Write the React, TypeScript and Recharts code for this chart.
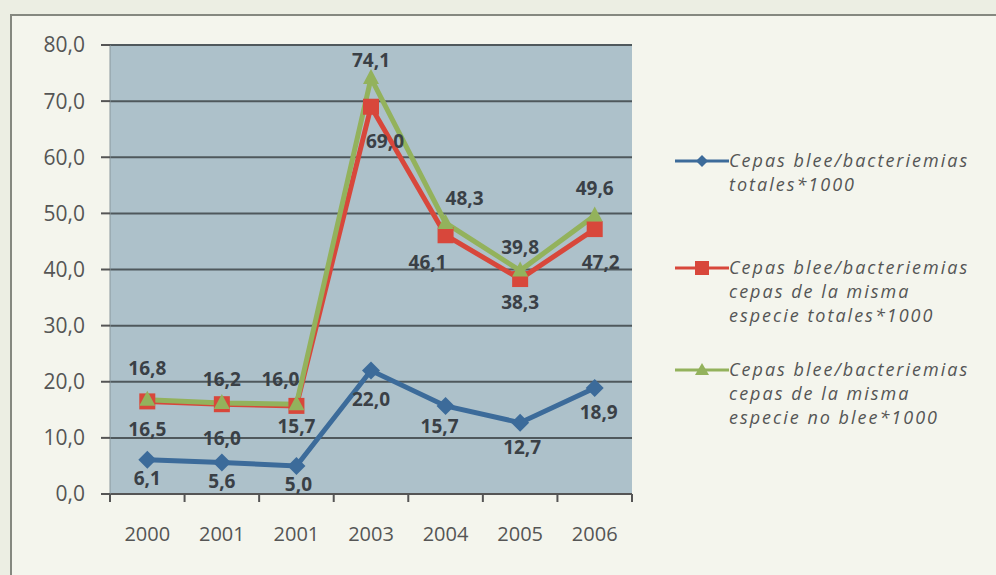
import React from 'react';
import { LineChart, Line, XAxis, YAxis, CartesianGrid, LabelList } from 'recharts';

const years = ['2000', '2001', '2001', '2003', '2004', '2005', '2006'];
const totales = [6.1, 5.6, 5.0, 22.0, 15.7, 12.7, 18.9];
const mismaEspecie = [16.5, 16.0, 15.7, 69.0, 46.1, 38.3, 47.2];
const noBlee = [16.8, 16.2, 16.0, 74.1, 48.3, 39.8, 49.6];
const yTicks = [0, 10, 20, 30, 40, 50, 60, 70, 80];

const data = years.map((y, i) => ({
  idx: i,
  totales: totales[i],
  misma: mismaEspecie[i],
  noBlee: noBlee[i],
}));

// label nudges (dx, dy from the point)
const blueOff = [[0, 18], [0, 18], [2, 18], [0, 28], [-6, 20], [2, 24], [4, 24]];
const redOff = [[0, 28], [0, 34], [0, 20], [14, 34], [-18, 27], [0, 23], [6, 33]];
const greenOff = [[0, -32], [0, -24], [-16, -25], [0, -18], [19, -25], [0, -24], [0, -28]];

const BLUE = '#3c6b9a';
const RED = '#d8473b';
const GREEN = '#93b25c';
const font = '"Open Sans", sans-serif';

const fmt = (v: number) => v.toFixed(1).replace('.', ',');

const makeLabel = (offs: number[][]) => (props: any) => {
  const { x, y, value, index } = props;
  const [dx, dy] = offs[index] || [0, 0];
  return (
    <text
      x={x + dx}
      y={y + dy}
      textAnchor="middle"
      dominantBaseline="central"
      fontFamily={font}
      fontSize={19}
      fontWeight={700}
      fill="#3a4046"
    >
      {fmt(value)}
    </text>
  );
};

const Diamond = (props: any) => {
  const { cx, cy } = props;
  const r = 9;
  return <polygon points={`${cx},${cy - r} ${cx + r},${cy} ${cx},${cy + r} ${cx - r},${cy}`} fill={BLUE} />;
};

const Square = (props: any) => {
  const { cx, cy } = props;
  return <rect x={cx - 8} y={cy - 8} width={16} height={16} fill={RED} />;
};

const Triangle = (props: any) => {
  const { cx, cy } = props;
  return <polygon points={`${cx},${cy - 9} ${cx + 8},${cy + 6} ${cx - 8},${cy + 6}`} fill={GREEN} />;
};

const BAND = 522 / 7;

const XTick = (props: any) => {
  const { x, y, payload, index } = props;
  return (
    <g>
      <line x1={x - BAND / 2} y1={y - 8} x2={x - BAND / 2} y2={y} stroke="#555" strokeWidth={2} />
      {index === years.length - 1 && (
        <line x1={x + BAND / 2} y1={y - 8} x2={x + BAND / 2} y2={y} stroke="#555" strokeWidth={2} />
      )}
      <text x={x} y={y + 39} textAnchor="middle" fontFamily={font} fontSize={20} fill="#555">
        {years[payload.value]}
      </text>
    </g>
  );
};

const legendItems = [
  { lines: ['Cepas blee/bacteriemias', 'totales*1000'], color: BLUE, marker: 'diamond' },
  { lines: ['Cepas blee/bacteriemias', 'cepas de la misma', 'especie totales*1000'], color: RED, marker: 'square' },
  { lines: ['Cepas blee/bacteriemias', 'cepas de la misma', 'especie no blee*1000'], color: GREEN, marker: 'triangle' },
];

const LegendMarker = ({ color, marker }: { color: string; marker: string }) => (
  <svg width={54} height={16} style={{ position: 'absolute', left: 0, top: 5 }}>
    <line x1={0} y1={8} x2={54} y2={8} stroke={color} strokeWidth={3} />
    {marker === 'diamond' && <polygon points="27,2 33,8 27,14 21,8" fill={color} />}
    {marker === 'square' && <rect x={20} y={1} width={14} height={14} fill={color} />}
    {marker === 'triangle' && <polygon points="27,1 34,13 20,13" fill={color} />}
  </svg>
);

export default function App() {
  return (
    <div style={{ position: 'fixed', left: 0, top: 0, width: 996, height: 575, background: '#eceee3', overflow: 'hidden' }}>
      <div
        style={{
          position: 'absolute',
          left: 10,
          top: 14,
          width: 1010,
          height: 620,
          border: '2px solid #858880',
          background: '#f4f5ed',
        }}
      />
      <div style={{ position: 'absolute', left: 0, top: 0 }}>
        <LineChart width={996} height={575} data={data} margin={{ top: 45, right: 364, bottom: 40, left: 20 }}>
          <CartesianGrid vertical={false} horizontal fill="#adc1ca" stroke="#4f585c" strokeWidth={2} />
          <XAxis
            dataKey="idx"
            type="category"
            scale="band"
            height={41}
            axisLine={{ stroke: '#555', strokeWidth: 2 }}
            tickLine={false}
            tick={<XTick />}
            interval={0}
          />
          <YAxis
            domain={[0, 80]}
            ticks={yTicks}
            width={90}
            axisLine={{ stroke: '#8a979c', strokeWidth: 1 }}
            tickLine={{ stroke: '#555', strokeWidth: 2 }}
            tickSize={9}
            tickFormatter={fmt}
            tick={{ fontFamily: font, fontSize: 21, fill: '#555', dx: -14 }}
          />
          <Line
            dataKey="totales"
            stroke={BLUE}
            strokeWidth={5}
            dot={<Diamond />}
            isAnimationActive={false}
          >
            <LabelList dataKey="totales" content={makeLabel(blueOff)} />
          </Line>
          <Line
            dataKey="misma"
            stroke={RED}
            strokeWidth={5}
            dot={<Square />}
            isAnimationActive={false}
          >
            <LabelList dataKey="misma" content={makeLabel(redOff)} />
          </Line>
          <Line
            dataKey="noBlee"
            stroke={GREEN}
            strokeWidth={5}
            dot={<Triangle />}
            isAnimationActive={false}
          >
            <LabelList dataKey="noBlee" content={makeLabel(greenOff)} />
          </Line>
        </LineChart>
      </div>
      <div
        style={{
          position: 'absolute',
          left: 675,
          top: 148,
          fontFamily: font,
          fontStyle: 'italic',
          fontSize: 18,
          letterSpacing: 2,
          color: '#555',
          lineHeight: '24px',
          whiteSpace: 'nowrap',
        }}
      >
        {legendItems.map((it, i) => (
          <div key={i} style={{ position: 'relative', paddingLeft: 54, marginBottom: i === 0 ? 59 : 30 }}>
            <LegendMarker color={it.color} marker={it.marker} />
            {it.lines.map((l, j) => (
              <div key={j}>{l}</div>
            ))}
          </div>
        ))}
      </div>
    </div>
  );
}
